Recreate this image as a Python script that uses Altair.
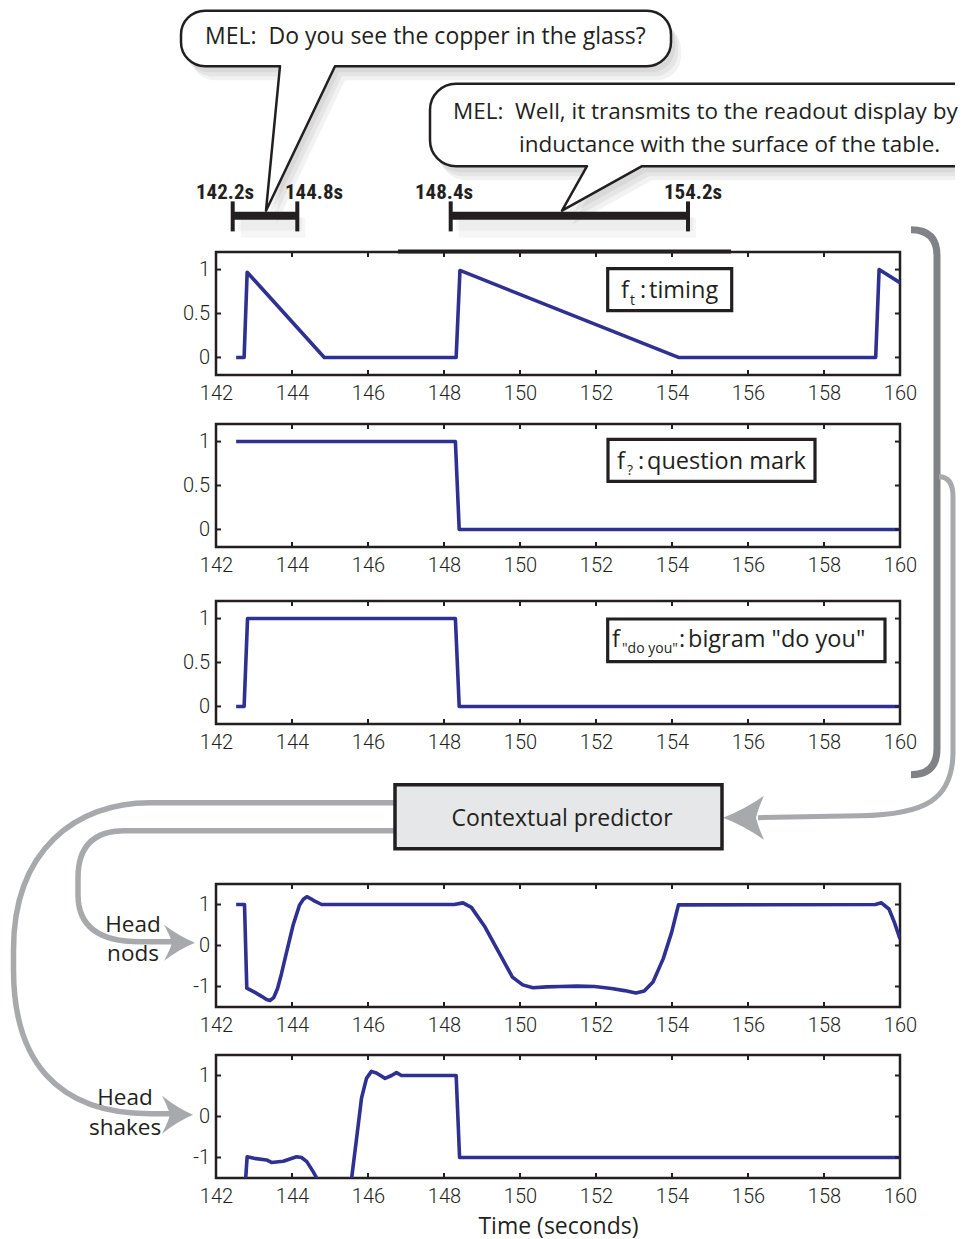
import altair as alt
import pandas as pd

# ---------------- colours / fonts ----------------
INK = "#231F20"
BLUE = "#2E3192"
DGRAY = "#808285"
LGRAY = "#A7A9AC"
BOXFILL = "#E6E7E8"
LFONT = "Open Sans"
AFONT = "Roboto"
CFONT = "Roboto Condensed, Liberation Sans Narrow, Roboto, sans-serif"

# ---------------- data ----------------
X_DOMAIN = [142, 160]
X_TICKS = [142, 144, 146, 148, 150, 152, 154, 156, 158, 160]
FEAT_Y_TICKS = [0, 0.5, 1]
HEAD_Y_TICKS = [-1, 0, 1]

timing_t = [142.53, 142.74, 142.82, 144.85, 148.32, 148.42, 154.17, 159.36, 159.45, 160.0]
timing_v = [0, 0, 0.97, 0, 0, 0.99, 0, 0, 1.0, 0.85]

qmark_t = [142.53, 148.3, 148.4, 160.0]
qmark_v = [1, 1, 0, 0]

doyou_t = [142.53, 142.74, 142.83, 148.3, 148.4, 160.0]
doyou_v = [0, 0, 1, 1, 0, 0]

nods_t = [142.53, 142.75, 142.81, 143.0, 143.2, 143.33, 143.42, 143.52, 143.62, 143.72,
          143.84, 144.03, 144.2, 144.3, 144.39, 144.5, 144.6, 144.78, 148.27, 148.5,
          148.72, 149.08, 149.44, 149.8, 150.07, 150.34, 150.7, 151.06, 151.5, 151.96,
          152.41, 152.75, 153.05, 153.27, 153.5, 153.77, 153.99, 154.17, 159.35, 159.51,
          159.71, 159.85, 160.0]
nods_v = [1, 1, -1.04, -1.13, -1.24, -1.32, -1.34, -1.27, -1.05, -0.7,
          -0.23, 0.5, 0.99, 1.13, 1.19, 1.14, 1.08, 1.0, 1.0, 1.04,
          0.93, 0.45, -0.16, -0.77, -0.96, -1.03, -1.01, -1.0, -0.99, -1.0,
          -1.05, -1.1, -1.16, -1.11, -0.89, -0.32, 0.32, 0.99, 1.0, 1.04,
          0.89, 0.57, 0.16]

shakes_t = [142.76, 142.82, 143.0, 143.33, 143.46, 143.77, 144.12, 144.25, 144.39, 144.56,
            144.65, 144.72, 145.53, 145.57, 145.7, 145.83, 145.96, 146.09, 146.22, 146.45,
            146.62, 146.75, 146.88, 148.32, 148.41, 160.0]
shakes_v = [-1.8, -0.98, -1.02, -1.06, -1.12, -1.09, -0.98, -1.0, -1.1, -1.35,
            -1.5, -1.8, -1.8, -1.5, -0.53, 0.45, 0.93, 1.1, 1.06, 0.93,
            1.0, 1.07, 1.0, 1.0, -1.0, -1.0]

seg_start = [142.2, 148.4]
seg_end = [144.8, 154.2]

quote1 = "MEL:\u00a0\u00a0Do you see the copper in the glass?"
quote2a = "MEL:\u00a0\u00a0Well, it transmits to the readout display by"
quote2b = "inductance with the surface of the table."

# ---------------- layout (page pixels) ----------------
W = 684
H = 123
X0 = 216
TOPS = [252.3, 423.7, 600.3, 882.5, 1053.5]
TL = 5  # inward tick length
RIGHT = 955  # right-most drawing x

ONE = pd.DataFrame({"k": [0]})


def xs():
    return alt.Scale(domain=X_DOMAIN, nice=False, zero=False)


def ys(d):
    return alt.Scale(domain=d, nice=False, zero=False)


def txt(s, px, py, top, size, font=LFONT, align="left", weight="normal", color=INK):
    return alt.Chart(ONE).mark_text(
        text=s, font=font, fontSize=size, align=align, baseline="alphabetic",
        fontWeight=weight, color=color
    ).encode(x=alt.value(px - X0), y=alt.value(py - top))


def shape(d, top, fill="transparent", stroke="transparent", sw=0, op=1.0, dx=0, dy=0):
    return alt.Chart(ONE).mark_point(
        shape=d, size=4, fill=fill, stroke=stroke, strokeWidth=sw, opacity=op,
        strokeJoin="round", strokeCap="butt"
    ).encode(x=alt.value(-X0 + dx), y=alt.value(-top + dy))


def rect(x1, y1, x2, y2, top, fill="white", stroke=INK, sw=3.2):
    return alt.Chart(ONE).mark_rect(fill=fill, stroke=stroke, strokeWidth=sw).encode(
        x=alt.value(x1 - X0), x2=alt.value(x2 - X0), y=alt.value(y1 - top), y2=alt.value(y2 - top))


def rule(x1, y1, x2, y2, top, color=INK, sw=2, op=1.0):
    return alt.Chart(ONE).mark_rule(color=color, strokeWidth=sw, opacity=op).encode(
        x=alt.value(x1 - X0), x2=alt.value(x2 - X0), y=alt.value(y1 - top), y2=alt.value(y2 - top))


def arrow_head(tx, ty, s, L, hw, notch):
    bx = tx - s * L
    nx = tx - s * (L - notch)
    c1x = tx - s * L * 0.5
    return (f"M{tx},{ty} Q{c1x},{ty - hw * 0.35} {bx},{ty - hw} "
            f"Q{nx - s * 2},{ty - hw * 0.4} {nx},{ty} "
            f"Q{nx - s * 2},{ty + hw * 0.4} {bx},{ty + hw} "
            f"Q{c1x},{ty + hw * 0.35} {tx},{ty} Z")


def panel(t, v, ydom, yticks, extra=(), xtitle=None):
    df = pd.DataFrame({"t": t, "v": v, "i": list(range(len(t)))})
    xaxis = alt.Axis(values=X_TICKS, labelExpr="'' + datum.value", labelFlush=False,
                     labelOverlap=False, labelPadding=8.5, titleFont=LFONT, titleFontSize=23,
                     titleFontWeight="normal", titleColor=INK, titlePadding=9)
    yaxis = alt.Axis(values=yticks, labelExpr="'' + datum.value", labelFlush=False,
                     labelOverlap=False, labelPadding=6.5)
    X = alt.X("t:Q", scale=xs(), axis=xaxis, title=xtitle)
    Y = alt.Y("v:Q", scale=ys(ydom), axis=yaxis, title=None)
    line = alt.Chart(df).mark_line(color=BLUE, strokeWidth=3.6, clip=True, strokeJoin="round").encode(
        x=X, y=Y, order="i:Q")
    xt = pd.DataFrame({"t": X_TICKS})
    yt = pd.DataFrame({"v": yticks})
    tick_top = alt.Chart(xt).mark_rule(color=INK, strokeWidth=2).encode(
        x=X, y=alt.value(0), y2=alt.value(TL))
    tick_bot = alt.Chart(xt).mark_rule(color=INK, strokeWidth=2).encode(
        x=X, y=alt.value(H), y2=alt.value(H - TL))
    tick_l = alt.Chart(yt).mark_rule(color=INK, strokeWidth=2).encode(
        y=Y, x=alt.value(0), x2=alt.value(TL))
    tick_r = alt.Chart(yt).mark_rule(color=INK, strokeWidth=2).encode(
        y=Y, x=alt.value(W), x2=alt.value(W - TL))
    return alt.layer(line, tick_top, tick_bot, tick_l, tick_r, *extra).properties(width=W, height=H)


def spacer(h):
    return alt.Chart(ONE).mark_point(opacity=0).encode(
        x=alt.value(0), y=alt.value(0)
    ).properties(width=W, height=h, view=alt.ViewBackground(stroke="transparent"))


# ---------------- decorations (drawn with panel 1, page coordinates) ----------------
T0 = TOPS[0]
bub1 = ("M205,11 H647 A24,24 0 0 1 671,35 V42.5 A24,24 0 0 1 647,66.5 H335 L266,211 "
        "L280,66.5 H205 A24,24 0 0 1 181,42.5 V35 A24,24 0 0 1 205,11 Z")


def bub2_fill(r):
    return (f"M456,84 H{r} V166.5 H642 L562,211 L587,166.5 H456 A26,26 0 0 1 430,140.5 "
            "V110 A26,26 0 0 1 456,84 Z")


bub2_line = (f"M{RIGHT},84 H456 A26,26 0 0 0 430,110 V140.5 A26,26 0 0 0 456,166.5 H587 "
             f"L562,211 L642,166.5 H{RIGHT}")

deco = [shape("M8,8 h1 v1 h-1 Z", T0)]  # top-left anchor of the drawing
for (dx, dy) in [(4, 6), (7, 10), (10, 14)]:
    deco.append(shape(bub1, T0, fill="black", op=0.05, dx=dx, dy=dy))
    deco.append(shape(bub2_fill(RIGHT - dx), T0, fill="black", op=0.05, dx=dx, dy=dy))
deco += [
    shape(bub1, T0, fill="white", stroke=INK, sw=2.5),
    shape(bub2_fill(RIGHT), T0, fill="white"),
    shape(bub2_line, T0, stroke=INK, sw=2.5),
    txt(quote1, 205, 44, T0, 23),
    txt(quote2a, 453, 119, T0, 22.5),
    txt(quote2b, 519, 152, T0, 22.5),
]
# time-span bars (soft shadow first)
bars = [(232.7, 297.3, 225, 314), (450.7, 688.0, 444, 693)]
for (a, b, la, lb) in bars:
    for (dx, dy, w) in [(5, 8, 14), (8, 12, 20)]:
        deco.append(rule(a + dx, 216 + dy, b + dx, 216 + dy, T0, color="black", sw=w, op=0.035))
for (a, b, la, lb), s0, s1 in zip(bars, seg_start, seg_end):
    deco += [
        rule(a, 216, b, 216, T0, sw=8),
        rule(a, 201.7, a, 231.7, T0, sw=4),
        rule(b, 201.7, b, 231.7, T0, sw=4),
        txt(f"{s0}s", la, 199, T0, 21, font=CFONT, align="center", weight="bold"),
        txt(f"{s1}s", lb, 199, T0, 21, font=CFONT, align="center", weight="bold"),
    ]
# bracket and arrows
deco += [
    rule(398, T0 - 0.5, 731, T0 - 0.5, T0, sw=4),
    shape("M911,230 Q937,230 937,256 L937,749 Q937,775 911,775", T0, stroke=DGRAY, sw=7),
    shape("M939,477 Q953,477 953,497 L953,752 C953,800 925,815 860,816 L758,818", T0, stroke=LGRAY, sw=5),
    shape(arrow_head(723, 818, -1, 41, 22, 8), T0, fill=LGRAY),
    shape("M395,803 L150,803 C76,803 13.5,850 13.5,950 L13.5,970 C13.5,1060 56,1114 150,1114 L170,1114",
          T0, stroke=LGRAY, sw=5.5),
    shape("M395,831 L125,831 Q78,831 78,878 L78,895 Q78,942 140,942 L172,942",
          T0, stroke=LGRAY, sw=5.5),
    shape(arrow_head(195, 943, 1, 31, 18, 8), T0, fill=LGRAY),
    shape(arrow_head(193, 1115, 1, 31, 19, 8), T0, fill=LGRAY),
    rect(395, 785, 722, 849, T0, fill=BOXFILL, sw=3.5),
    txt("Contextual predictor", 562, 826, T0, 23, align="center"),
    txt("Head", 133, 932.7, T0, 22.5, align="center"),
    txt("nods", 133, 961.7, T0, 22.5, align="center"),
    txt("Head", 125, 1105, T0, 22.5, align="center"),
    txt("shakes", 125, 1135, T0, 22.5, align="center"),
    # label box of panel 1
    rect(607.7, 269, 731.7, 311, T0),
    txt("f", 621, 298.5, T0, 23.5),
    txt("t", 630, 305, T0, 14),
    txt(":", 640, 298.5, T0, 23.5),
    txt("timing", 649, 298.5, T0, 23.5),
]

T1 = TOPS[1]
box2 = [
    rect(608, 439, 815, 481, T1),
    txt("f", 617, 468.5, T1, 23.5),
    txt("?", 627, 475, T1, 14),
    txt(":", 638, 468.5, T1, 23.5),
    txt("question mark", 647, 468.5, T1, 23.5),
]
T2 = TOPS[2]
box3 = [
    rect(607.7, 618.3, 885, 661, T2),
    txt("f", 612, 646.5, T2, 23.5),
    txt("\"do you\"", 622, 652, T2, 14),
    txt(":", 679, 646.5, T2, 23.5),
    txt("bigram \"do you\"", 688, 646.5, T2, 23.5),
]

p1 = panel(timing_t, timing_v, [-0.2, 1.2], FEAT_Y_TICKS, extra=deco)
p2 = panel(qmark_t, qmark_v, [-0.2, 1.2], FEAT_Y_TICKS, extra=box2)
p3 = panel(doyou_t, doyou_v, [-0.2, 1.2], FEAT_Y_TICKS, extra=box3)
p4 = panel(nods_t, nods_v, [-1.5, 1.5], HEAD_Y_TICKS)
p5 = panel(shakes_t, shakes_v, [-1.5, 1.5], HEAD_Y_TICKS, xtitle="Time (seconds)")

parts = [p1]
for i, p in enumerate([p2, p3, p4, p5]):
    parts.append(spacer(TOPS[i + 1] - TOPS[i] - H))
    parts.append(p)

chart = alt.vconcat(*parts, spacing=0, bounds="flush").resolve_scale(
    x="independent", y="independent"
).properties(
    padding={"top": -2, "left": -2, "right": 0, "bottom": 0}
).configure_view(
    stroke=INK, strokeWidth=2.5
).configure_axis(
    labelFont=AFONT, labelFontSize=20, labelFontWeight=300, labelColor=INK,
    domain=False, ticks=False, tickSize=0, grid=False
)

chart.save("out.html", embed_options={"renderer": "svg", "actions": False})
